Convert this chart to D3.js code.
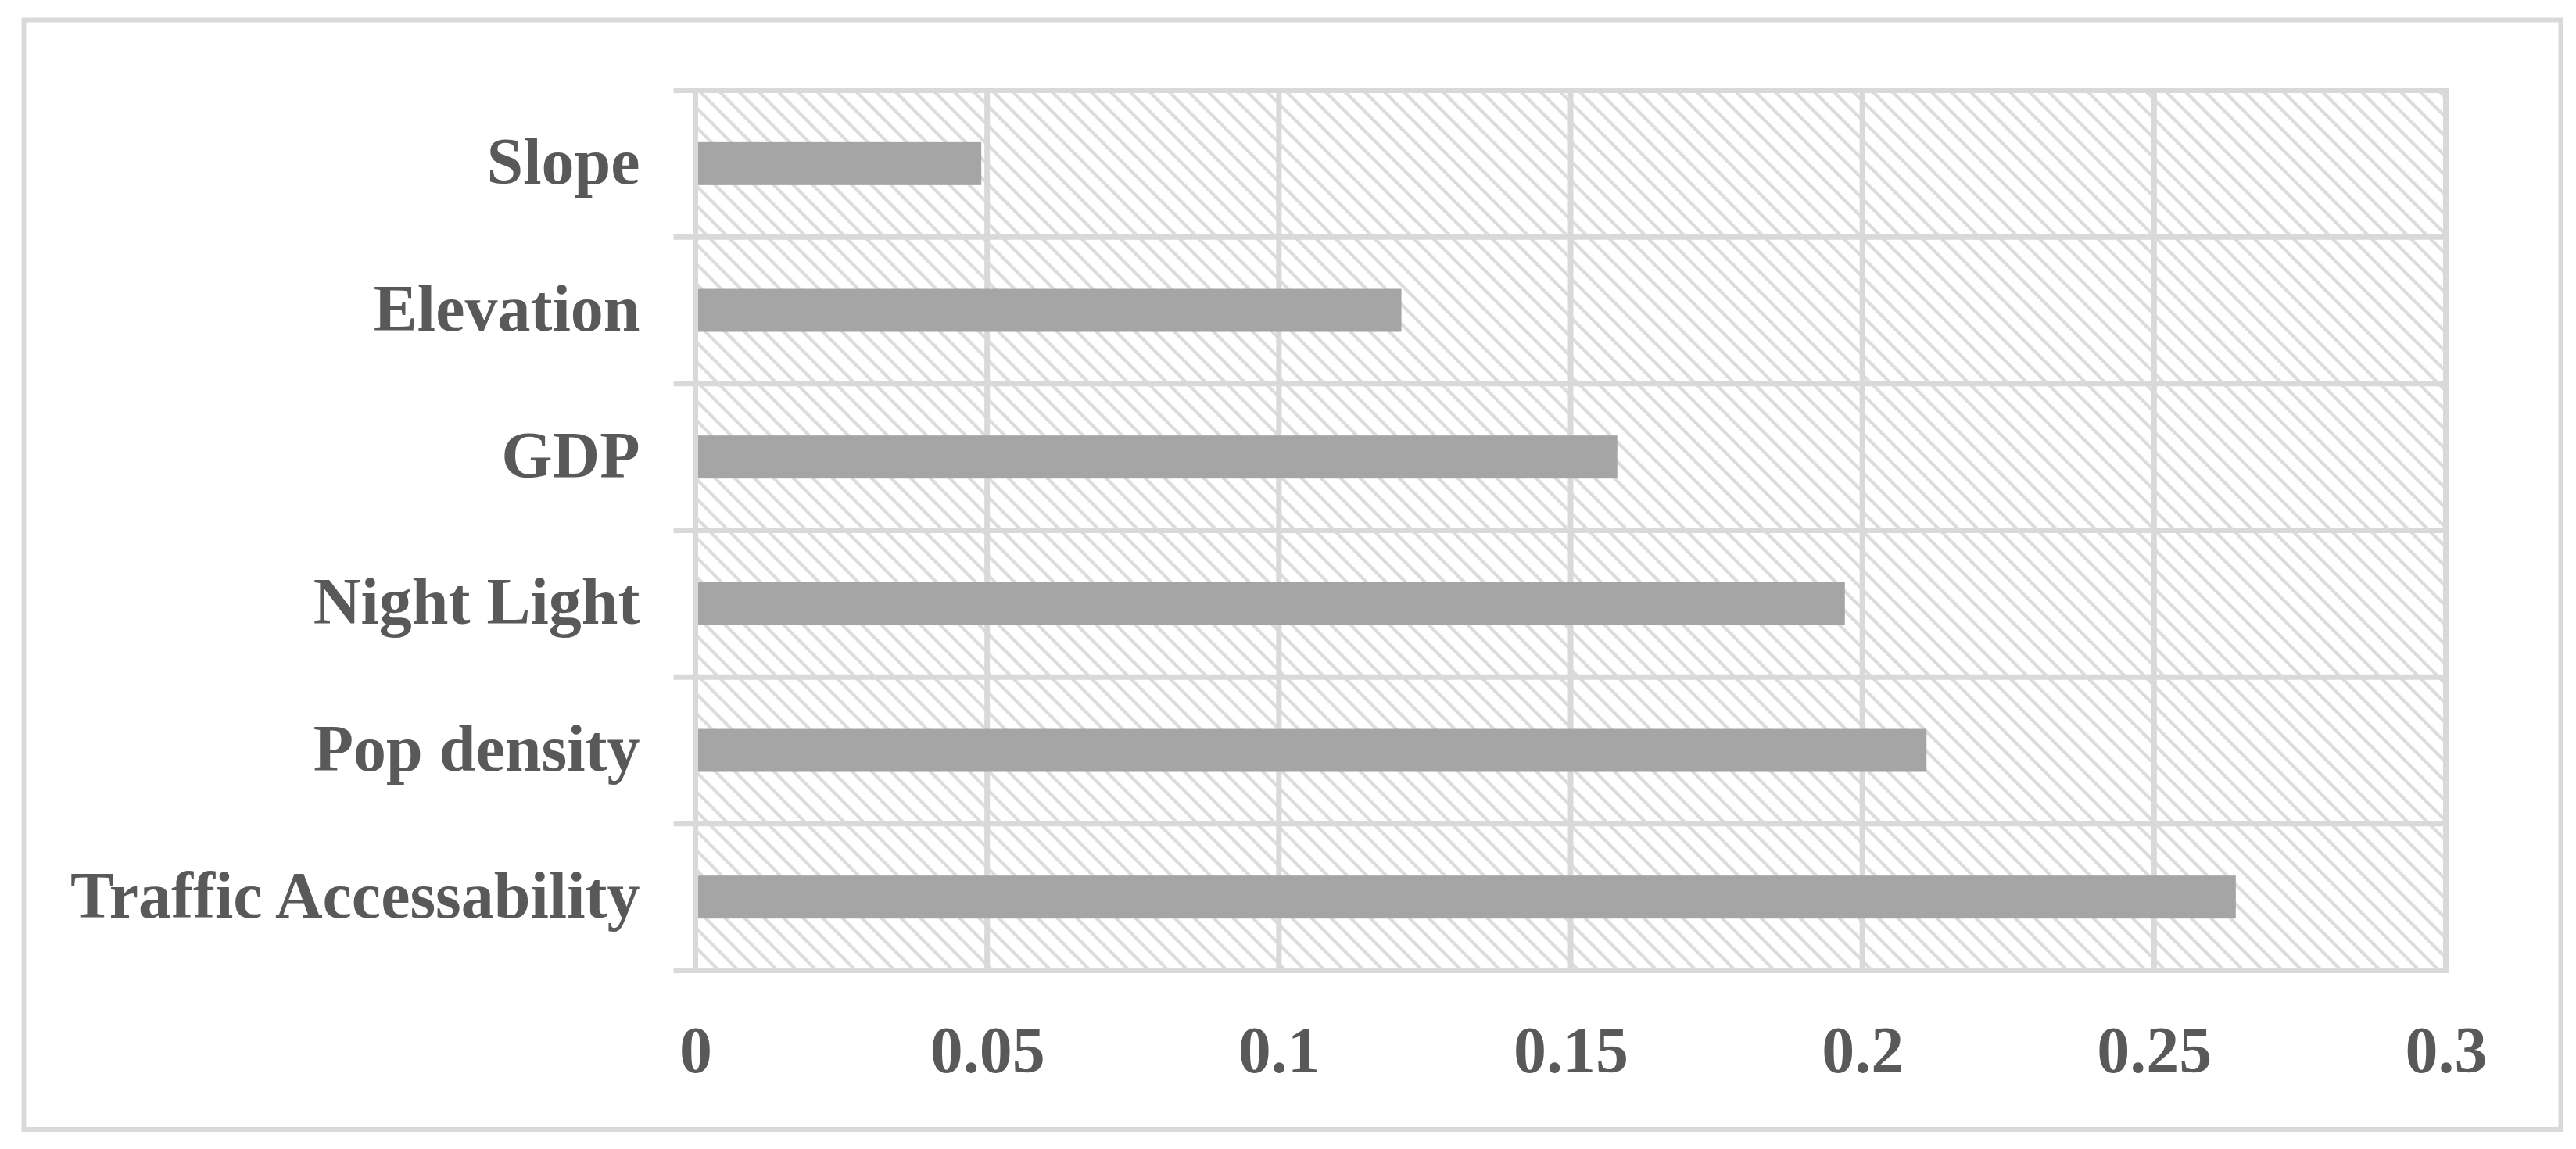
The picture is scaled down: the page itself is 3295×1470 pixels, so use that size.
<!DOCTYPE html>
<html>
<head>
<meta charset="utf-8">
<script src="https://cdn.jsdelivr.net/npm/d3@7"></script>
<style>
  body { margin: 0; background: #fff; }
  svg { display: block; }
</style>
</head>
<body>
<svg id="chart"></svg>
<script>
// chart data
var categories = ['Slope', 'Elevation', 'GDP', 'Night Light', 'Pop density', 'Traffic Accessability'];
var values = [0.049, 0.121, 0.158, 0.197, 0.211, 0.264];
var xTicks = [0, 0.05, 0.1, 0.15, 0.2, 0.25, 0.3];
var xTickLabels = ['0', '0.05', '0.1', '0.15', '0.2', '0.25', '0.3'];

var totalWidth = 3295, totalHeight = 1470;
var plot = { left: 889.5, right: 3128.5, top: 115.5, bottom: 1241.5 };
var gridColor = '#d9d9d9',
    hatchColor = '#dcdcdc',
    barColor = '#a5a5a5',
    textColor = '#595959',
    fontFamily = '"Liberation Serif", "Times New Roman", serif';

var svg = d3.select('#chart')
    .attr('width', totalWidth)
    .attr('height', totalHeight);

// hatch pattern for the plot background
var defs = svg.append('defs');
defs.append('pattern')
    .attr('id', 'hatch')
    .attr('patternUnits', 'userSpaceOnUse')
    .attr('width', 17.68)
    .attr('height', 17.68)
    .attr('patternTransform', 'rotate(-45)')
    .append('rect')
    .attr('x', 0)
    .attr('y', 0)
    .attr('width', 4.2)
    .attr('height', 17.68)
    .attr('fill', hatchColor);

// outer chart border
svg.append('rect')
    .attr('x', 30.5)
    .attr('y', 25.5)
    .attr('width', 3245)
    .attr('height', 1419.5)
    .attr('fill', '#fff')
    .attr('stroke', gridColor)
    .attr('stroke-width', 6);

var x = d3.scaleLinear()
    .domain([0, 0.3])
    .range([plot.left, plot.right]);

var y = d3.scaleBand()
    .domain(categories)
    .range([plot.top, plot.bottom])
    .paddingInner(0.707)
    .paddingOuter(0.3535);

svg.append('rect')
    .attr('x', plot.left)
    .attr('y', plot.top)
    .attr('width', plot.right - plot.left)
    .attr('height', plot.bottom - plot.top)
    .attr('fill', 'url(#hatch)');

// vertical gridlines
svg.append('g')
    .selectAll('line')
    .data(xTicks)
    .join('line')
    .attr('x1', d => x(d))
    .attr('x2', d => x(d))
    .attr('y1', plot.top - 3.5)
    .attr('y2', plot.bottom + 3.5)
    .attr('stroke', gridColor)
    .attr('stroke-width', 7);

// category separators, with tick marks sticking out on the left
var step = y.step();
var seps = d3.range(categories.length + 1).map(i => plot.top + i * step);
svg.append('g')
    .selectAll('line')
    .data(seps)
    .join('line')
    .attr('x1', plot.left - 28)
    .attr('x2', plot.right + 3.5)
    .attr('y1', d => d)
    .attr('y2', d => d)
    .attr('stroke', gridColor)
    .attr('stroke-width', 7);

// bars
svg.append('g')
    .selectAll('rect')
    .data(values)
    .join('rect')
    .attr('x', x(0))
    .attr('y', (d, i) => y(categories[i]))
    .attr('width', d => x(d) - x(0))
    .attr('height', y.bandwidth())
    .attr('fill', barColor);

// left axis line above bar starts
svg.append('line')
    .attr('x1', x(0))
    .attr('x2', x(0))
    .attr('y1', plot.top - 3.5)
    .attr('y2', plot.bottom + 3.5)
    .attr('stroke', gridColor)
    .attr('stroke-width', 7);

// category labels
var yAxis = svg.append('g')
    .attr('transform', 'translate(' + plot.left + ',0)')
    .call(d3.axisLeft(y).tickSize(0).tickPadding(71));
yAxis.select('.domain').remove();
yAxis.selectAll('text')
    .attr('dy', '0.31em')
    .attr('fill', textColor)
    .style('font-family', fontFamily)
    .style('font-weight', 'bold')
    .style('font-size', '84px');

// value labels
var xAxis = svg.append('g')
    .attr('transform', 'translate(0,' + plot.bottom + ')')
    .call(d3.axisBottom(x)
        .tickValues(xTicks)
        .tickFormat((d, i) => xTickLabels[i])
        .tickSize(0)
        .tickPadding(71));
xAxis.select('.domain').remove();
xAxis.selectAll('text')
    .attr('fill', textColor)
    .style('font-family', fontFamily)
    .style('font-weight', 'bold')
    .style('font-size', '84px');
</script>
</body>
</html>
